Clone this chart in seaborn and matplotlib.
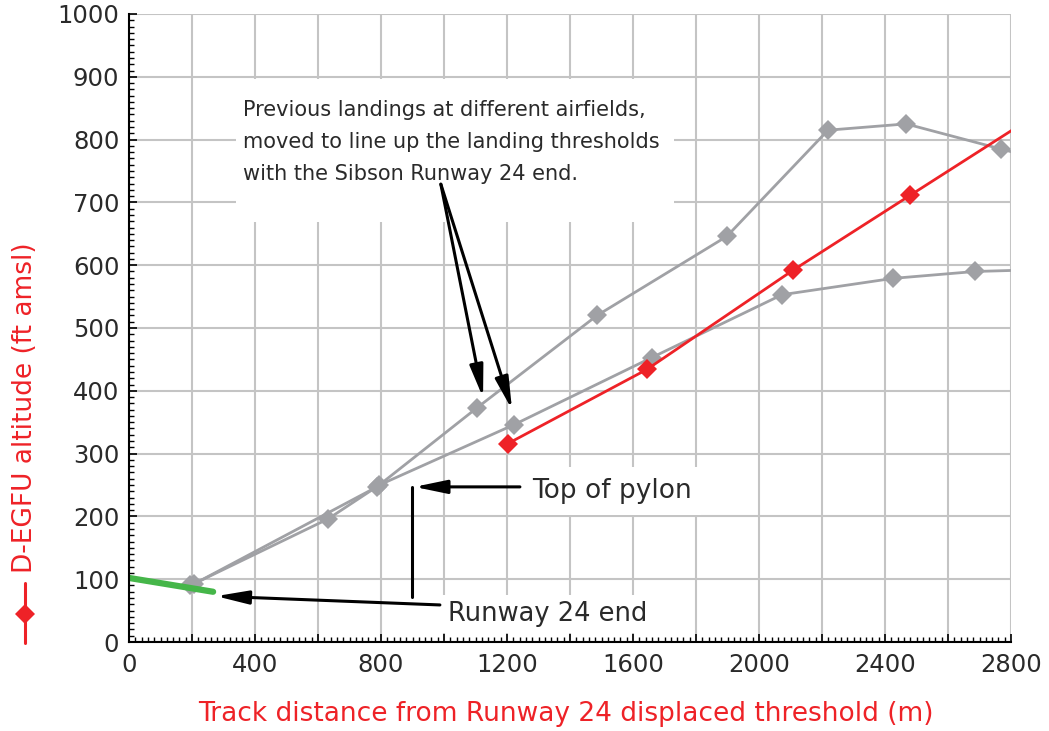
import numpy as np
import pandas as pd
import seaborn as sns
import matplotlib
matplotlib.use("Agg")
import matplotlib.pyplot as plt
from matplotlib.lines import Line2D
from matplotlib.patches import Rectangle
from matplotlib.ticker import MultipleLocator, FixedLocator

# ---------------- data ----------------
prev_a_dist = [205, 787, 1105, 1486, 1898, 2219, 2467, 2768, 2900]
prev_a_alt = [92, 247, 373, 520, 646, 815, 825, 785, 768]
prev_b_dist = [195, 632, 795, 1222, 1660, 2073, 2425, 2686, 2900]
prev_b_alt = [90, 196, 250, 346, 453, 553, 579, 590, 593]
egfu_dist = [1203, 1644, 2108, 2479, 2950]
egfu_alt = [316, 434, 592, 711, 862]
runway_dist = [0, 267]
runway_alt = [102, 80]

pylon_dist = 898
pylon_base = 72
pylon_top = 247

x_ticks = [0, 400, 800, 1200, 1600, 2000, 2400, 2800]
y_ticks = [0, 100, 200, 300, 400, 500, 600, 700, 800, 900, 1000]

GREY = "#a0a1a5"
RED = "#ee2227"
GREEN = "#45b649"
TXT = "#2a2a2a"

df = pd.concat([
    pd.DataFrame({"dist": prev_a_dist, "alt": prev_a_alt, "series": "A"}),
    pd.DataFrame({"dist": prev_b_dist, "alt": prev_b_alt, "series": "B"}),
    pd.DataFrame({"dist": egfu_dist, "alt": egfu_alt, "series": "EGFU"}),
], ignore_index=True)
df_rw = pd.DataFrame({"dist": runway_dist, "alt": runway_alt})

sns.set_style("ticks")
plt.rcParams["font.family"] = ["DejaVu Sans"]

fig = plt.figure(figsize=(10.49, 7.31), dpi=100)
ax = fig.add_axes([129 / 1049, 1 - 642 / 731, (1011 - 129) / 1049, (642 - 14) / 731])

sns.lineplot(data=df, x="dist", y="alt", hue="series", style="series",
             palette={"A": GREY, "B": GREY, "EGFU": RED},
             markers={"A": "D", "B": "D", "EGFU": "D"}, dashes=False,
             sort=False, estimator=None, legend=False, ax=ax,
             linewidth=2.0, markersize=10, markeredgewidth=0, zorder=4)
sns.lineplot(data=df_rw, x="dist", y="alt", color=GREEN, linewidth=4.5,
             ax=ax, legend=False, zorder=5, solid_capstyle="round")

ax.set_xlim(0, 2800)
ax.set_ylim(0, 1000)

# grid
ax.xaxis.set_major_locator(FixedLocator(np.arange(0, 2801, 200)))
ax.set_xticklabels([str(int(v)) if int(v) in x_ticks else "" for v in np.arange(0, 2801, 200)])
ax.xaxis.set_minor_locator(MultipleLocator(20))
ax.yaxis.set_major_locator(FixedLocator(y_ticks))
ax.set_yticklabels([str(v) for v in y_ticks])
ax.yaxis.set_minor_locator(MultipleLocator(10))
ax.grid(True, which="major", color="#c4c4c4", linewidth=1.5)
ax.set_axisbelow(True)

ax.tick_params(which="major", direction="in", length=6, width=1.2, color="black",
               labelsize=17.5, labelcolor=TXT)
ax.tick_params(axis="x", which="major", pad=8)
ax.tick_params(axis="y", which="major", pad=7)
ax.tick_params(which="minor", direction="in", length=3.5, width=1.0, color="black")
for s in ["top", "right"]:
    ax.spines[s].set_visible(False)
for s in ["left", "bottom"]:
    ax.spines[s].set_color("black")
    ax.spines[s].set_linewidth(1.5)
    ax.spines[s].set_zorder(6)
ax.set_xlabel("")
ax.set_ylabel("")

# white panels behind the notes (hide the grid)
for (x0, y0, x1, y1) in [(340, 668, 1730, 896), (1241, 203, 1815, 278), (987, 14, 1790, 75)]:
    ax.add_patch(Rectangle((x0, y0), x1 - x0, y1 - y0, facecolor="white",
                           edgecolor="none", zorder=1))

# annotations
arrow_kw = dict(arrowstyle="-|>,head_length=1.3,head_width=0.27", color="black",
                lw=2.2, mutation_scale=15, shrinkA=0, shrinkB=0)

ax.text(362, 863,
        "Previous landings at different airfields,\nmoved to line up the landing thresholds\nwith the Sibson Runway 24 end.",
        fontsize=15, color=TXT, ha="left", va="top", linespacing=1.75, zorder=2)
for tgt in [(1124, 389), (1216, 370)]:
    ax.annotate("", xy=tgt, xytext=(990, 729), arrowprops=arrow_kw, zorder=7)

ax.plot([pylon_dist, pylon_dist], [pylon_base, pylon_top], color="black", lw=2.2, zorder=7)
ax.annotate("", xy=(pylon_dist + 8, pylon_top), xytext=(1241, pylon_top),
            arrowprops=arrow_kw, zorder=7)
ax.text(1279, 241, "Top of pylon", fontsize=19, color=TXT, ha="left", va="center", zorder=2)

ax.annotate("", xy=(276, 73), xytext=(987, 59), arrowprops=arrow_kw, zorder=7)
ax.text(1013, 45, "Runway 24 end", fontsize=18.5, color=TXT, ha="left", va="center", zorder=2)

# axis labels
fig.text(566 / 1049, 1 - 714 / 731, "Track distance from Runway 24 displaced threshold (m)",
         color=RED, fontsize=19, ha="center", va="center")
fig.text(25 / 1049, 1 - 408 / 731, "D-EGFU altitude (ft amsl)", color=RED, fontsize=19,
         rotation=90, ha="center", va="center")
fig.add_artist(Line2D([25 / 1049, 25 / 1049], [1 - 643 / 731, 1 - 583 / 731],
                      color=RED, lw=2.2, transform=fig.transFigure))
fig.add_artist(Line2D([25 / 1049], [1 - 614 / 731], marker="D", markersize=10,
                      markeredgewidth=0, color=RED, transform=fig.transFigure))

fig.savefig("out.png", dpi=100, facecolor="white")
